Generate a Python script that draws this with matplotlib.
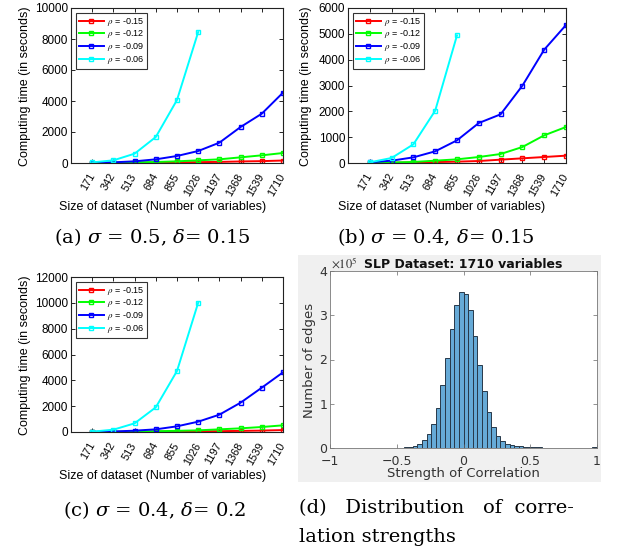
import numpy as np
import matplotlib
matplotlib.use("Agg")
import matplotlib.pyplot as plt
from matplotlib.patches import Rectangle

plt.rcParams['mathtext.fontset'] = 'stix'

W, H = 617, 550

# ---- data ----
sizes = [171, 342, 513, 684, 855, 1026, 1197, 1368, 1539, 1710]
rho_labels = ['-0.15', '-0.12', '-0.09', '-0.06']
line_colors = ['#ff0000', '#00ff00', '#0000ff', '#00ffff']

# (a) sigma = 0.5, delta = 0.15
a_r15 = [5, 10, 20, 30, 40, 55, 70, 100, 120, 160]
a_r12 = [5, 20, 40, 65, 108, 172, 237, 365, 495, 645]
a_r09 = [10, 43, 108, 237, 452, 774, 1312, 2323, 3183, 4540]
a_r06 = [40, 172, 602, 1677, 4065, 8452]

# (b) sigma = 0.4, delta = 0.15
b_r15 = [3, 10, 20, 35, 52, 77, 129, 181, 232, 284]
b_r12 = [5, 20, 40, 90, 142, 232, 348, 619, 1071, 1394]
b_r09 = [26, 90, 219, 452, 877, 1548, 1884, 2994, 4387, 5342]
b_r06 = [26, 194, 723, 2026, 4942]

# (c) sigma = 0.4, delta = 0.2
c_r15 = [3, 8, 15, 25, 35, 50, 65, 85, 110, 150]
c_r12 = [5, 15, 30, 60, 90, 129, 206, 284, 387, 516]
c_r09 = [10, 40, 103, 206, 439, 800, 1342, 2271, 3432, 4619]
c_r06 = [26, 180, 671, 1910, 4723, 10013]

# (d) histogram of correlation strengths, 58 bins on [-1, 1], counts in units of 1e5
n_bins = 58
edge_counts_1e5 = [
    0, 0, 0, 0, 0, 0, 0.0005, 0.0008, 0.001, 0.001,
    0.0015, 0.002, 0.003, 0.004, 0.005, 0.007, 0.012, 0.023, 0.05, 0.09,
    0.17, 0.32, 0.54, 0.90, 1.42, 2.03, 2.69, 3.24, 3.52, 3.48,
    3.11, 2.52, 1.87, 1.28, 0.81, 0.48, 0.28, 0.16, 0.10, 0.065,
    0.045, 0.035, 0.025, 0.02, 0.015, 0.012, 0.01, 0.008, 0.006, 0.005,
    0.004, 0.003, 0.003, 0.002, 0.002, 0.002, 0.002, 0.03,
]


def px_axes(fig, l, t, r, b):
    return fig.add_axes([l / W, 1 - b / H, (r - l) / W, (b - t) / H])


def line_panel(fig, rect, series, ymax, ystep, xlab_px, ylab_px):
    ax = px_axes(fig, *rect)
    for vals, lab, col in zip(series, rho_labels, line_colors):
        ax.plot(sizes[:len(vals)], vals, color=col, lw=1.4, marker='s', ms=3.5,
                mfc='none', mew=1.0, label=r'$\rho$ = ' + lab)
    ax.set_xlim(0, 1710)
    ax.set_ylim(0, ymax)
    ax.set_xticks(sizes)
    ax.set_xticklabels([str(s) for s in sizes], rotation=60, ha='right', va='center',
                       rotation_mode='anchor', fontsize=7.8, family='Liberation Sans')
    ax.set_yticks(np.arange(0, ymax + 1, ystep))
    ax.set_yticklabels([str(int(v)) for v in np.arange(0, ymax + 1, ystep)],
                       fontsize=8.5, family='Liberation Sans')
    ax.tick_params(direction='in', length=3, width=0.6, top=True, right=True, pad=2)
    ax.tick_params(axis='x', pad=8)
    for sp in ax.spines.values():
        sp.set_linewidth(0.8)
        sp.set_color('#222222')
    leg = ax.legend(loc='upper left', frameon=True, fancybox=False,
                    edgecolor='black', handlelength=2.8, borderaxespad=0.55,
                    labelspacing=0.08, borderpad=0.3, handletextpad=0.3,
                    prop={'family': 'Liberation Sans', 'size': 6.5})
    leg.get_frame().set_linewidth(0.8)
    fig.text(xlab_px[0] / W, 1 - xlab_px[1] / H, 'Size of dataset (Number of variables)',
             ha='center', va='center', fontsize=9, family='Liberation Sans')
    fig.text(ylab_px[0] / W, 1 - ylab_px[1] / H, 'Computing time (in seconds)',
             ha='center', va='center', rotation=90, fontsize=9, family='Liberation Sans')
    return ax


fig = plt.figure(figsize=(W / 100, H / 100), dpi=100)

line_panel(fig, (71, 8, 283, 163), [a_r15, a_r12, a_r09, a_r06], 10000, 2000,
           (163, 207), (25, 86))
line_panel(fig, (348, 8, 566, 163), [b_r15, b_r12, b_r09, b_r06], 6000, 1000,
           (442, 207), (306, 86))
line_panel(fig, (71, 277, 283, 432), [c_r15, c_r12, c_r09, c_r06], 12000, 2000,
           (163, 476), (25, 355))

# grey figure background of the histogram panel
fig.patches.append(Rectangle((298 / W, 1 - 482 / H), (601 - 298) / W, (482 - 255) / H,
                             transform=fig.transFigure, facecolor='#f0f0f0',
                             edgecolor='none', zorder=-1))

axd = px_axes(fig, 330, 271, 597, 448)
bin_edges = np.linspace(-1, 1, n_bins + 1)
centers = (bin_edges[:-1] + bin_edges[1:]) / 2
axd.hist(centers, bins=bin_edges, weights=edge_counts_1e5, color='#66aad7',
         edgecolor='#27394a', linewidth=0.7)
axd.set_xlim(-1, 1)
axd.set_ylim(0, 4)
axd.set_xticks([-1, -0.5, 0, 0.5, 1])
axd.set_xticklabels(['\u22121', '\u22120.5', '0', '0.5', '1'], fontsize=9)
axd.set_yticks([0, 1, 2, 3, 4])
axd.set_yticklabels(['0', '1', '2', '3', '4'], fontsize=9)
axd.tick_params(direction='in', length=3, width=0.5, top=True, right=True, pad=2,
                colors='#666666', labelcolor='#333333')
axd.tick_params(axis='x', pad=5)
for sp in axd.spines.values():
    sp.set_linewidth(0.6)
    sp.set_color('#777777')
fig.text(331 / W, 1 - 264 / H, r'$\times10^{5}$', ha='left', va='center', fontsize=9,
         color='#333333')
fig.text(463 / W, 1 - 264 / H, 'SLP Dataset: 1710 variables', ha='center', va='center',
         fontsize=9, fontweight='bold', color='#111111')
fig.text(463 / W, 1 - 474 / H, 'Strength of Correlation', ha='center', va='center',
         fontsize=9.5, color='#333333')
fig.text(310 / W, 1 - 360 / H, 'Number of edges', ha='center', va='center',
         rotation=90, fontsize=9.5, color='#333333')

# captions
cap_font = dict(fontsize=14, family='DejaVu Serif', math_fontfamily='dejavuserif')
fig.text(152 / W, 1 - 237 / H, r'(a) $\sigma$ = 0.5, $\delta$= 0.15', ha='center',
         va='center', **cap_font)
fig.text(436 / W, 1 - 237 / H, r'(b) $\sigma$ = 0.4, $\delta$= 0.15', ha='center',
         va='center', **cap_font)
fig.text(154 / W, 1 - 510 / H, r'(c) $\sigma$ = 0.4, $\delta$= 0.2', ha='center',
         va='center', **cap_font)
fig.text(299 / W, 1 - 508 / H, '(d)   Distribution   of  corre-', ha='left', va='center',
         **cap_font)
fig.text(299 / W, 1 - 537 / H, 'lation strengths', ha='left', va='center', **cap_font)

fig.savefig('out.png', dpi=100)
